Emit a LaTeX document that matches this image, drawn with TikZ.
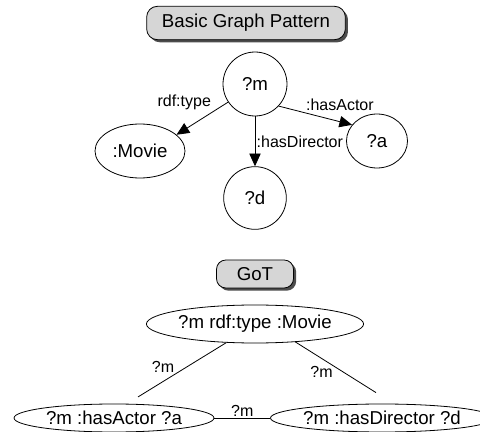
\documentclass[tikz,border=0pt]{standalone}
\usepackage{fontspec}
\setmainfont{Liberation Sans}
\usetikzlibrary{shapes,arrows.meta,shadows}

\begin{document}
\begin{tikzpicture}[node distance=2cm, >={Triangle[length=9.5pt,width=8.5pt]}, line width=0.6pt]
    \tikzset{font={\fontsize{14pt}{16}\selectfont}}
    \tikzset{lbl/.style={font={\fontsize{12pt}{13}\selectfont}, inner sep=1pt},
      circ/.style={draw, ellipse, inner sep=0pt},
      titlebox/.style={draw, rounded corners=8pt, fill=black!16,
        drop shadow={shadow xshift=2pt, shadow yshift=-2pt, fill=black!70, opacity=1}}}
    \useasboundingbox (0,0) rectangle (360pt,-324pt);
    \node [titlebox, minimum width=149pt, minimum height=25pt] (bgp) at (184.5pt,-17.25pt) {Basic Graph Pattern};
    \node [circ, minimum width=48pt, minimum height=48pt] (m) at (191.25pt,-63pt) {?m};
      \node [circ, below of=m, node distance=50.25pt, xshift=-86.25pt, minimum width=67.5pt, minimum height=40.5pt] (movie) {:Movie};
      \node [circ, below of=m, node distance=85.5pt, minimum width=47pt, minimum height=47pt] (d) {?d};
      \node [circ, below of=m, node distance=42.75pt, xshift=91.5pt, minimum width=45.75pt, minimum height=40.5pt] (a) {?a};
    \draw [->] (m.-146) -- node[lbl, pos=0.3, above left] {rdf:type} (movie.24);
    \draw [->] (m) -- node[lbl, right] {:hasDirector} (d);
    \draw [->] (m.-43) -- node[lbl, pos=0.35, above right] {:hasActor} (a.147);
    \node [titlebox, below of=d, node distance=57pt, minimum width=57.75pt, minimum height=21pt, rounded corners=7pt] (got) {GoT};
      \node [circ, below of=got, node distance=37.5pt, minimum width=153pt, minimum height=28.5pt] (t1) {?m rdf:type :Movie};
        \node [circ, below of=t1, node distance=70.5pt, xshift=-105.75pt, minimum width=150pt, minimum height=21pt] (t2) {?m :hasActor ?a};
        \node [circ, below of=t1, node distance=70.5pt, xshift=95.25pt, minimum width=148.5pt, minimum height=21pt] (t3) {?m :hasDirector ?d};
    \draw (t1.-147) -- node[lbl, pos=0.45, left=8pt] {?m} ([shift={(18pt,5pt)}]t2.north);
    \draw (t1.-24) -- node[lbl, pos=0.6, left=7pt] {?m} ([shift={(-4.5pt,8.25pt)}]t3.north);
    \draw (t2) -- node[lbl, above] {?m} (t3);
\end{tikzpicture}
\end{document}
